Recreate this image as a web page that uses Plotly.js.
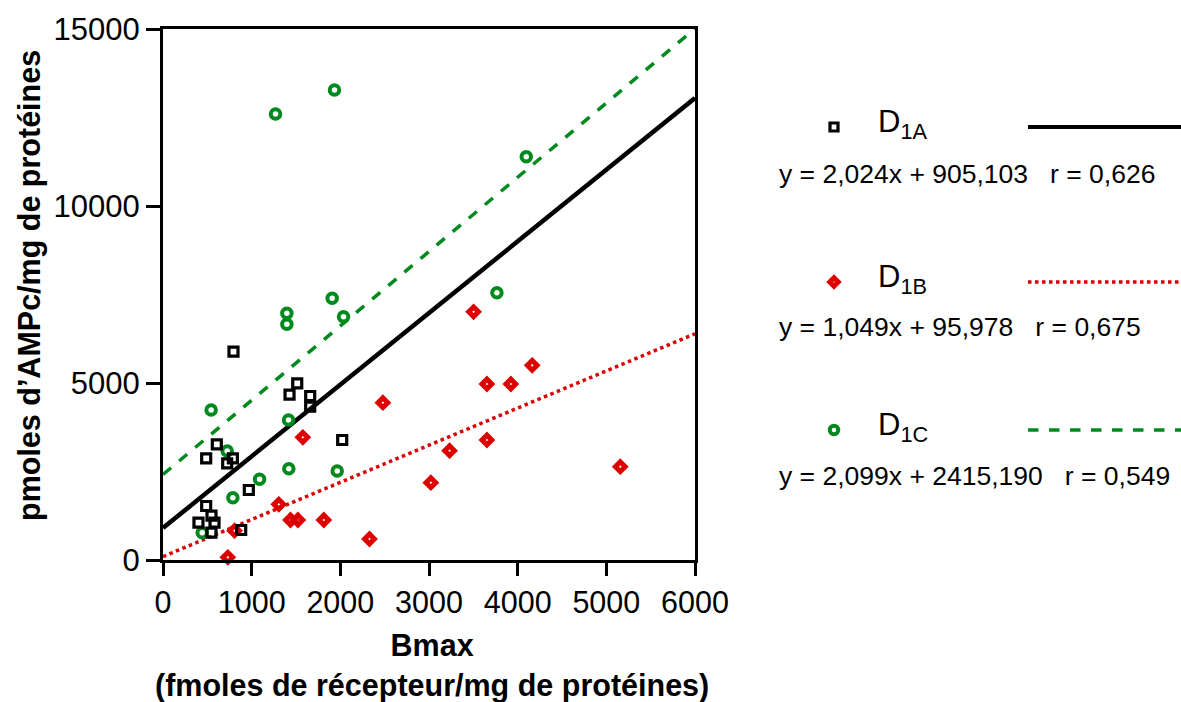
<!DOCTYPE html>
<html>
<head>
<meta charset="utf-8">
<script src="https://cdn.plot.ly/plotly-3.0.1.min.js"></script>
<style>html,body{margin:0;padding:0;background:#fff;}#chart{width:1181px;height:702px;}</style>
</head>
<body>
<div id="chart"></div>
<script>
// D1A (black squares)
const d1aX = [795,1514,1427,1660,1660,2021,607,487,788,724,968,487,547,400,581,547,882];
const d1aY = [5884,4991,4670,4633,4331,3390,3267,2872,2872,2731,1977,1525,1252,1054,1054,772,847];
// D1B (red diamonds)
const d1bX = [2480,1577,1306,1438,1521,1814,2329,731,807,3503,4164,3653,3923,3653,3232,3021,5157];
const d1bY = [4445,3466,1573,1130,1130,1130,593,76,829,7010,5499,4972,4972,3390,3088,2184,2637];
// D1C (green circles)
const d1cX = [1269,1934,4097,1908,1397,1397,2036,3766,543,1416,724,1419,1965,1089,788,442];
const d1cY = [12599,13277,11393,7393,6968,6658,6874,7551,4237,3955,3079,2580,2514,2279,1761,772];

// Regression lines (from the equations in the legend)
const seriesNames = ['1A','1B','1C'];
const slopes = [2.024, 1.049, 2.099];
const intercepts = [905.103, 95.978, 2415.190];
const rValues = ['0,626','0,675','0,549'];
const eqTexts = ['y = 2,024x + 905,103', 'y = 1,049x + 95,978', 'y = 2,099x + 2415,190'];
const lineX = [0, 6000];

const xTicks = [0,1000,2000,3000,4000,5000,6000];
const yTicks = [0,5000,10000,15000];

const xTitle = ['Bmax', '(fmoles de récepteur/mg de protéines)'];
const yTitle = 'pmoles d’AMPc/mg de protéines';

const BLACK = '#000000', RED = '#dd0000', GREEN = '#008a1e';
const colors = [BLACK, RED, GREEN];
const dashes = ['solid', 'dot', 'dash'];
const FONT = 'Liberation Sans, Arial, Helvetica, sans-serif';

const traces = [];
for (let i = 0; i < 3; i++) {
  traces.push({
    x: lineX, y: lineX.map(v => slopes[i] * v + intercepts[i]),
    mode: 'lines', type: 'scatter', showlegend: false, hoverinfo: 'skip',
    line: {color: colors[i], width: i === 0 ? 4.5 : 3.5, dash: dashes[i]}
  });
}
const mkC = {symbol: 'circle-open', size: 9.5, color: GREEN, line: {width: 4, color: GREEN}};
const mkB = {symbol: 'diamond-open', size: 7.5, color: RED, line: {width: 5, color: RED}};
const mkA = {symbol: 'square-open', size: 9, color: BLACK, line: {width: 3.2, color: BLACK}};
traces.push({x: d1cX, y: d1cY, mode: 'markers', type: 'scatter', showlegend: false, marker: mkC, cliponaxis: false});
traces.push({x: d1bX, y: d1bY, mode: 'markers', type: 'scatter', showlegend: false, marker: mkB, cliponaxis: false});
traces.push({x: d1aX, y: d1aY, mode: 'markers', type: 'scatter', showlegend: false, marker: mkA, cliponaxis: false});

// legend panel on a pixel-like secondary axis
const legY = [127, 282, 430];
const eqY = [174, 327, 476];
const legMarkers = [mkA, mkB, mkC];
for (let i = 0; i < 3; i++) {
  traces.push({x: [834], y: [legY[i]], xaxis: 'x2', yaxis: 'y2', mode: 'markers', type: 'scatter',
    showlegend: false, marker: Object.assign({}, legMarkers[i], {size: legMarkers[i].size - 1}), cliponaxis: false});
  traces.push({x: [1028, 1181], y: [legY[i], legY[i]], xaxis: 'x2', yaxis: 'y2', mode: 'lines', type: 'scatter',
    showlegend: false, line: {color: colors[i], width: i === 0 ? 4 : 3.5, dash: dashes[i]}, cliponaxis: false});
}

const L = 163, W = 1181, T = 29, B = 560;
const annotations = [];
for (let i = 0; i < 3; i++) {
  annotations.push({xref: 'x2', yref: 'y2', x: 876, y: legY[i] - 3, xanchor: 'left', yanchor: 'middle',
    text: 'D<sub>' + seriesNames[i] + '</sub>', showarrow: false, font: {family: FONT, size: 31, color: '#000'}});
  annotations.push({xref: 'x2', yref: 'y2', x: 777, y: eqY[i], xanchor: 'left', yanchor: 'middle',
    text: eqTexts[i] + '\u00a0\u00a0\u00a0r = ' + rValues[i], showarrow: false,
    font: {family: FONT, size: 26.5, color: '#000'}});
}
// axis titles
annotations.push({xref: 'paper', yref: 'paper', x: (29 - L) / (W - L), y: (B - 286) / (B - T),
  xanchor: 'center', yanchor: 'middle', textangle: -90, showarrow: false,
  text: '<b>' + yTitle + '</b>', font: {family: FONT, size: 30.5, color: '#000'}});
annotations.push({xref: 'paper', yref: 'paper', x: (432 - L) / (W - L), y: (B - 665) / (B - T),
  xanchor: 'center', yanchor: 'middle', showarrow: false, align: 'center',
  text: '<b>' + xTitle[0] + '</b><br><b>' + xTitle[1] + '</b>', font: {family: FONT, size: 30.5, color: '#000'}});

const layout = {
  width: 1181, height: 702,
  margin: {l: L, r: 0, t: T, b: 702 - B, pad: 0},
  paper_bgcolor: '#fff', plot_bgcolor: '#fff',
  font: {family: FONT, color: '#000'},
  showlegend: false,
  xaxis: {
    domain: [0, 532 / (W - L)], range: [0, 6000], tickvals: xTicks, ticktext: xTicks.map(String),
    showgrid: false, zeroline: false, showline: true, linewidth: 3, linecolor: '#000', mirror: true,
    ticks: 'outside', ticklen: 13, tickwidth: 3, tickcolor: '#000',
    tickfont: {family: FONT, size: 30.5, color: '#000'}
  },
  yaxis: {
    range: [0, 15000], tickvals: yTicks, ticktext: yTicks.map(String),
    showgrid: false, zeroline: false, showline: true, linewidth: 3, linecolor: '#000', mirror: true,
    ticks: 'outside', ticklen: 14, tickwidth: 3, tickcolor: '#000',
    tickfont: {family: FONT, size: 31, color: '#000'}
  },
  xaxis2: {domain: [0.55, 1], range: [L + 0.55 * (W - L), W], visible: false, anchor: 'y2'},
  yaxis2: {domain: [0, 1], range: [B, T], visible: false, anchor: 'x2'},
  annotations: annotations
};

Plotly.newPlot('chart', traces, layout, {displayModeBar: false, staticPlot: true});
</script>
</body>
</html>
